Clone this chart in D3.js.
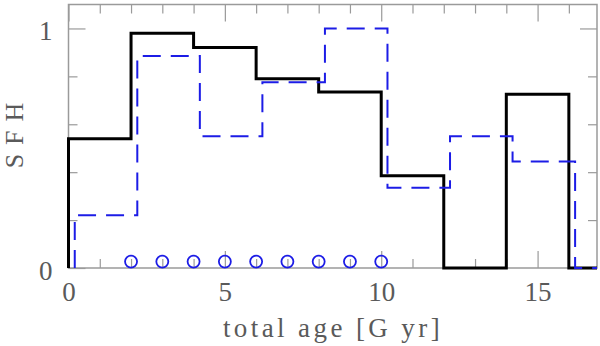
<!DOCTYPE html>
<html>
<head>
<meta charset="utf-8">
<script src="https://cdn.jsdelivr.net/npm/d3@7"></script>
<style>
  body { margin: 0; background: #fff; }
  svg { display: block; }
  text { font-family: "Liberation Serif", "DejaVu Serif", "Times New Roman", serif; fill: #5a5a5a; }
</style>
</head>
<body>
<svg id="chart" width="600" height="346"></svg>
<script>
// star formation history, two reconstructions
const solidPoints = [[0, 0], [0, 0.54], [2, 0.98], [4, 0.92], [6, 0.79], [8, 0.735], [10, 0.385], [12, 0], [14, 0.725], [16, 0], [16.9, 0]];
const dashedPoints = [[0.2, 0], [0.2, 0.22], [2.2, 0.885], [4.2, 0.55], [6.2, 0.775], [8.2, 1.0], [10.2, 0.335], [12.2, 0.55], [14.2, 0.445], [16.2, 0], [16.9, 0]];
const circleX = [2, 3, 4, 5, 6, 7, 8, 9, 10];
const circleY = 0.027;

const xMajor = [0, 5, 10, 15];
const xMinor = [1, 2, 3, 4, 6, 7, 8, 9, 11, 12, 13, 14, 16];
const yMajor = [0, 1];
const yMinor = [0.2, 0.4, 0.6, 0.8];

const svg = d3.select("#chart");
const padL = 68.5, padR = 597, padT = 4.5, padB = 268;
const fontFam = '"Liberation Serif", "DejaVu Serif", "Times New Roman", serif';

const x = d3.scaleLinear().domain([0, 16.9]).range([padL, padR]);
const y = d3.scaleLinear().domain([0, 1.1]).range([padB, padT]);

const axisColor = "#9a9a9a";

// ticks (inward, on all four sides)
function tickAxis(axis, tx, ty) {
    const g = svg.append("g").attr("transform", `translate(${tx},${ty})`).call(axis);
    g.select(".domain").remove();
    g.selectAll("text").remove();
    g.selectAll("line").attr("stroke", axisColor).attr("stroke-width", 1.2);
}
tickAxis(d3.axisBottom(x).tickValues(xMajor).tickSizeInner(-17).tickSizeOuter(0), 0, padB);
tickAxis(d3.axisBottom(x).tickValues(xMinor).tickSizeInner(-9).tickSizeOuter(0), 0, padB);
tickAxis(d3.axisTop(x).tickValues(xMajor).tickSizeInner(-17).tickSizeOuter(0), 0, padT);
tickAxis(d3.axisTop(x).tickValues(xMinor).tickSizeInner(-9).tickSizeOuter(0), 0, padT);
tickAxis(d3.axisLeft(y).tickValues(yMajor).tickSizeInner(-17).tickSizeOuter(0), padL, 0);
tickAxis(d3.axisLeft(y).tickValues(yMinor).tickSizeInner(-9).tickSizeOuter(0), padL, 0);
tickAxis(d3.axisRight(y).tickValues(yMajor).tickSizeInner(-17).tickSizeOuter(0), padR, 0);
tickAxis(d3.axisRight(y).tickValues(yMinor).tickSizeInner(-9).tickSizeOuter(0), padR, 0);

// frame
svg.append("rect")
    .attr("x", padL).attr("y", padT)
    .attr("width", padR - padL).attr("height", padB - padT)
    .attr("fill", "none").attr("stroke", axisColor).attr("stroke-width", 1.5);

// tick labels
const xLab = svg.append("g").attr("transform", `translate(0,${padB})`)
    .call(d3.axisBottom(x).tickValues(xMajor).tickSize(0).tickPadding(14).tickFormat(d3.format("d")));
xLab.select(".domain").remove();
xLab.selectAll("text").attr("font-size", 27).attr("font-family", fontFam).attr("fill", "#5a5a5a");

const yLab = svg.append("g").attr("transform", `translate(${padL},0)`)
    .call(d3.axisLeft(y).tickValues(yMajor).tickSize(0).tickPadding(16).tickFormat(d3.format("d")));
yLab.select(".domain").remove();
yLab.selectAll("text").attr("font-size", 27).attr("dy", "0.42em").attr("font-family", fontFam).attr("fill", "#5a5a5a");

// axis titles
svg.append("text")
    .attr("x", 333).attr("y", 337)
    .attr("text-anchor", "middle")
    .attr("font-family", fontFam)
    .attr("font-size", 27)
    .attr("letter-spacing", 3.4)
    .text("total age [G yr]");

svg.append("text")
    .attr("transform", "translate(23,131) rotate(-90)")
    .attr("text-anchor", "middle")
    .attr("font-family", fontFam)
    .attr("font-size", 26)
    .attr("letter-spacing", 9)
    .text("SFH");

// step lines
const line = d3.line().x(d => x(d[0])).y(d => y(d[1])).curve(d3.curveStepAfter);

svg.append("path")
    .datum(solidPoints)
    .attr("d", line)
    .attr("fill", "none")
    .attr("stroke", "#000")
    .attr("stroke-width", 3);

svg.append("path")
    .datum(dashedPoints)
    .attr("d", line)
    .attr("fill", "none")
    .attr("stroke", "#1c1ce6")
    .attr("stroke-width", 2)
    .attr("stroke-dasharray", "18,10");

// circles
svg.selectAll("circle.mark")
    .data(circleX)
    .enter().append("circle")
    .attr("class", "mark")
    .attr("cx", d => x(d))
    .attr("cy", y(circleY))
    .attr("r", 6)
    .attr("fill", "none")
    .attr("stroke", "#1c1ce6")
    .attr("stroke-width", 1.8);
</script>
</body>
</html>
